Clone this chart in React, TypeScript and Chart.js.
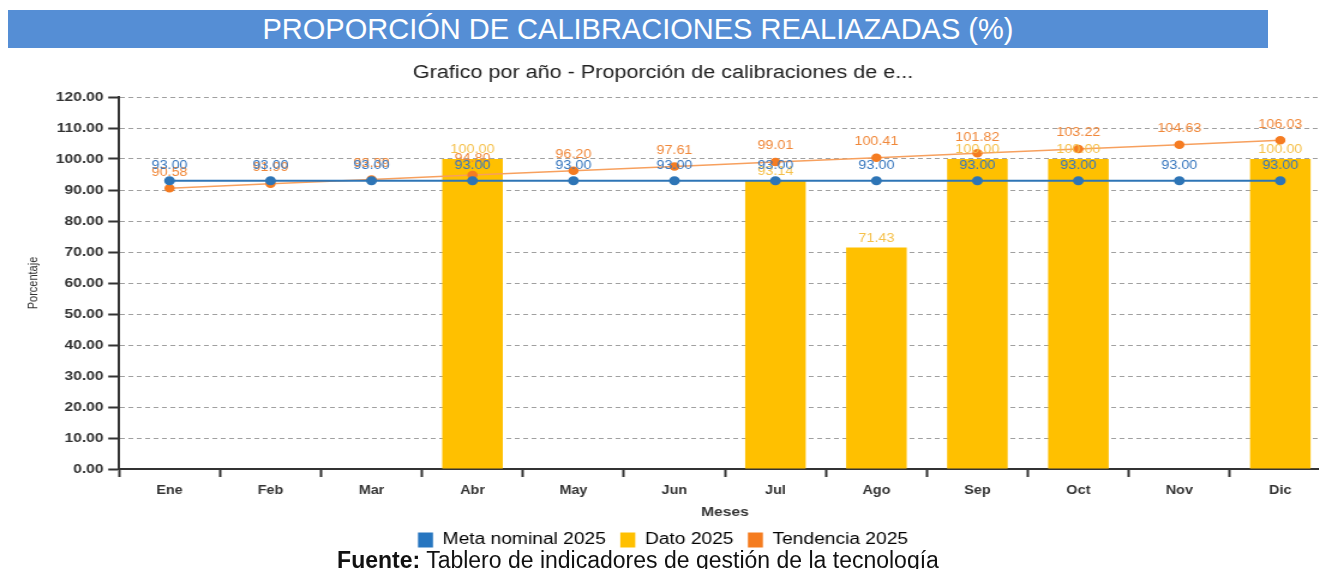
import React, { useEffect, useRef } from "react";
import { Chart, registerables } from "chart.js";

Chart.register(...registerables);

const months = ["Ene", "Feb", "Mar", "Abr", "May", "Jun", "Jul", "Ago", "Sep", "Oct", "Nov", "Dic"];
const metaNominal2025 = [93, 93, 93, 93, 93, 93, 93, 93, 93, 93, 93, 93];
const dato2025 = [null, null, null, 100, null, null, 93.14, 71.43, 100, 100, null, 100];
const tendencia2025 = [90.58, 91.99, 93.39, 94.8, 96.2, 97.61, 99.01, 100.41, 101.82, 103.22, 104.63, 106.03];
const yMin = 0;
const yMax = 120;
const yStep = 10;

const FONT = '"Liberation Sans", Arial, sans-serif';

const valueLabels = {
  id: "valueLabels",
  afterDatasetsDraw(chart: any) {
    const ctx = chart.ctx;
    const drawOrder = [1, 2, 0];
    drawOrder.forEach((i) => {
      const ds = chart.data.datasets[i];
      const meta = chart.getDatasetMeta(i);
      const st = ds.labelStyle;
      meta.data.forEach((el: any, j: number) => {
        const v = ds.data[j];
        if (v === null || v === undefined) return;
        ctx.save();
        ctx.font = `12px ${FONT}`;
        ctx.fillStyle = st.color;
        ctx.textAlign = "center";
        ctx.textBaseline = "middle";
        ctx.fillText(Number(v).toFixed(2), el.x, el.y - st.offset);
        ctx.restore();
      });
    });
  },
};

export default function App() {
  const ref = useRef<HTMLCanvasElement | null>(null);

  useEffect(() => {
    if (!ref.current) return;
    const chart = new Chart(ref.current, {
      type: "bar",
      data: {
        labels: months,
        datasets: [
          {
            type: "line",
            label: "Meta nominal 2025",
            data: metaNominal2025,
            borderColor: "#2E75B6",
            backgroundColor: "#2776C0",
            pointBackgroundColor: "#2E75B6",
            pointBorderColor: "#2E75B6",
            pointRadius: 3.5,
            borderWidth: 2,
            order: 1,
            labelStyle: { color: "#3676BE", offset: 15 },
          } as any,
          {
            type: "bar",
            label: "Dato 2025",
            data: dato2025,
            backgroundColor: "#FFC000",
            borderWidth: 0,
            barPercentage: 0.6,
            categoryPercentage: 1,
            order: 3,
            labelStyle: { color: "#F5C04A", offset: 9 },
          } as any,
          {
            type: "line",
            label: "Tendencia 2025",
            data: tendencia2025,
            borderColor: "#F7A05E",
            backgroundColor: "#F57C1F",
            pointBackgroundColor: "#F57C22",
            pointBorderColor: "#F57C22",
            pointRadius: 3.5,
            borderWidth: 1.5,
            order: 2,
            labelStyle: { color: "#F0883A", offset: 16 },
          } as any,
        ],
      },
      options: {
        responsive: false,
        animation: false,
        devicePixelRatio: 1,
        layout: { padding: 0 },
        plugins: {
          title: {
            display: true,
            text: "Grafico por año - Proporción de calibraciones de e...",
            color: "#222",
            font: { family: FONT, size: 18, weight: "normal" },
            padding: { top: 10, bottom: 13.4 },
          },
          legend: {
            position: "bottom",
            labels: {
              boxWidth: 12.5,
              boxHeight: 15,
              padding: 12,
              color: "#333",
              font: { family: FONT, size: 16 },
              generateLabels: (chart: any) =>
                chart.data.datasets.map((ds: any, i: number) => ({
                  text: ds.label,
                  fillStyle: ds.backgroundColor,
                  strokeStyle: ds.backgroundColor,
                  lineWidth: 0,
                  hidden: false,
                  datasetIndex: i,
                })),
            },
          },
          tooltip: { enabled: false },
        },
        scales: {
          x: {
            offset: true,
            grid: {
              offset: true,
              drawOnChartArea: false,
              drawTicks: true,
              tickLength: 8,
              tickColor: "#333",
              tickWidth: 2,
            },
            border: { color: "#333", width: 2 },
            ticks: {
              color: "#333",
              padding: 6,
              font: { family: FONT, size: 12, weight: "bold" },
            },
            title: {
              display: true,
              text: "Meses",
              color: "#333",
              font: { family: FONT, size: 13, weight: "bold" },
              padding: { top: 1, bottom: 0 },
            },
          },
          y: {
            min: yMin,
            max: yMax,
            afterFit: (scale: any) => {
              scale.width = 109.2;
            },
            grid: {
              color: "#A0A0A0",
              lineWidth: 1,
              drawTicks: true,
              tickLength: 9,
              tickColor: "#333",
              tickWidth: 2,
              tickBorderDash: [],
            } as any,
            border: { color: "#333", width: 2, dash: [4, 3] },
            ticks: {
              stepSize: yStep,
              color: "#333",
              padding: 4,
              font: { family: FONT, size: 13, weight: "bold" },
              callback: (v: any) => Number(v).toFixed(2),
            },
            title: {
              display: true,
              text: "Porcentaje",
              color: "#333",
              font: { family: FONT, size: 11 },
              padding: { top: 30.9, bottom: 0 },
            },
          },
        },
      },
      plugins: [valueLabels],
    });
    return () => chart.destroy();
  }, []);

  return (
    <div
      style={{
        position: "relative",
        width: 1311,
        height: 569,
        marginBottom: -8,
        overflow: "hidden",
        fontFamily: FONT,
      }}
    >
      <div
        style={{
          position: "absolute",
          left: 0,
          top: 2,
          width: 1260,
          height: 38,
          background: "#558ED5",
          color: "#fff",
          fontSize: 29,
          lineHeight: "38px",
          textAlign: "center",
          whiteSpace: "nowrap",
        }}
      >
        PROPORCIÓN DE CALIBRACIONES REALIAZADAS (%)
      </div>
      <canvas
        ref={ref}
        width={1125}
        height={506}
        style={{
          position: "absolute",
          left: -20,
          top: 44,
          transform: "scaleX(1.2)",
          transformOrigin: "0 0",
        }}
      />
      <div
        style={{
          position: "absolute",
          left: 0,
          top: 540,
          width: 1260,
          fontSize: 23,
          lineHeight: "24px",
          textAlign: "center",
          color: "#111",
          whiteSpace: "nowrap",
        }}
      >
        <b>Fuente:</b> Tablero de indicadores de gestión de la tecnología
      </div>
    </div>
  );
}
